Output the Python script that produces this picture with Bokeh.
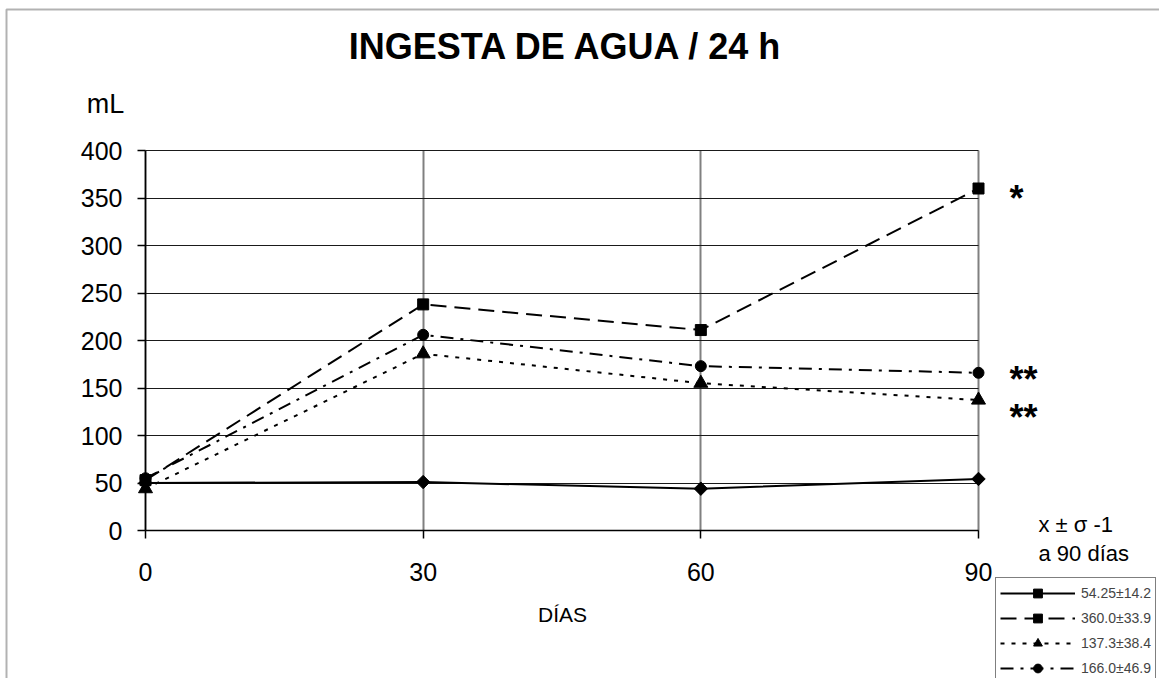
import math
from bokeh.plotting import figure
from bokeh.models import Range1d, Label, Legend, LegendItem, FixedTicker, BoxAnnotation
from bokeh.embed import file_html
from bokeh.resources import INLINE

# ---- data ----
days = [0, 30, 60, 90]
x_ticks = [0, 30, 60, 90]
y_ticks = [0, 50, 100, 150, 200, 250, 300, 350, 400]
grupo_1 = [50, 51, 44, 54.25]     # diamond, solid
grupo_2 = [53, 238, 211, 360]     # square, dashed
grupo_3 = [44, 186, 155, 137.3]   # triangle, dotted
grupo_4 = [55, 206, 173, 166]     # circle, dash-dot
legend_labels = ["54.25\u00b114.2", "360.0\u00b133.9", "137.3\u00b138.4", "166.0\u00b146.9"]
title_text = "INGESTA DE AGUA / 24 h"
y_title = "mL"
x_title = "D\u00cdAS"
note_1 = "x \u00b1 \u03c3 -1"
note_2 = "a 90 d\u00edas"
marks = ["*", "**", "**"]
mark_values = [360, 166, 137.3]

FONT = "Liberation Sans"
W, H = 1159, 678
# plot area (0..90, 0..400) placed at pixels x 145..978, y 530..150
PX = (978 - 145) / 90.0
PY = (530 - 150) / 400.0
x_rng = Range1d(-145 / PX, 90 + (W - 978) / PX)
y_rng = Range1d(-(H - 530) / PY, 400 + 150 / PY)

p = figure(width=W, height=H, output_backend="svg", toolbar_location=None,
           x_range=x_rng, y_range=y_rng,
           min_border_left=0, min_border_right=0,
           min_border_top=0, min_border_bottom=0)
p.outline_line_color = None
p.background_fill_color = "white"
p.border_fill_color = "white"

# outer chart frame (left and top edges visible)
p.add_layout(BoxAnnotation(left=6, right=W + 100, top=H - 9, bottom=-100,
                           left_units="screen", right_units="screen",
                           top_units="screen", bottom_units="screen",
                           fill_alpha=0, line_color="black", line_width=2))

# axes
p.xaxis.ticker = FixedTicker(ticks=x_ticks)
p.yaxis.ticker = FixedTicker(ticks=y_ticks)
p.xaxis.bounds = (0, 90)
p.yaxis.bounds = (0, 400)
p.xaxis.fixed_location = 0
p.yaxis.fixed_location = 0
for ax in (p.xaxis, p.yaxis):
    ax.axis_line_color = "black"
    ax.axis_line_width = 1.5
    ax.major_tick_line_color = "black"
    ax.major_tick_line_width = 1.5
    ax.major_tick_out = 8
    ax.major_tick_in = 0
    ax.minor_tick_line_color = None
    ax.major_label_text_font = FONT
    ax.major_label_text_font_size = "25px"
    ax.major_label_text_color = "black"
p.xaxis.major_label_standoff = 24
p.yaxis.major_label_standoff = 15

# grids
p.xgrid.ticker = FixedTicker(ticks=x_ticks)
p.ygrid.ticker = FixedTicker(ticks=y_ticks)
p.xgrid.grid_line_color = "#808080"
p.xgrid.grid_line_width = 2
p.xgrid.cross_bounds = (0, 400)
p.ygrid.grid_line_color = "#1a1a1a"
p.ygrid.grid_line_width = 1
p.ygrid.cross_bounds = (0, 90)

# series
series = [
    (grupo_1, "solid", "square", 9.5, math.pi / 4),
    (grupo_2, "16 8", "square", 11, 0),
    (grupo_3, "4 7", "triangle", 14, 0),
    (grupo_4, "13 7 3 7", "circle", 11, 0),
]
items = []
for (vals, dash, marker, size, ang), lab_ in zip(series, legend_labels):
    r = p.line(days, vals, line_color="black", line_width=2, line_dash=dash)
    s = p.scatter(days, vals, marker=marker, size=size, angle=ang,
                  fill_color="black", line_color="black")
    items.append(LegendItem(label=lab_, renderers=[r, s]))

legend = Legend(items=items, location=(995, H - 684), orientation="vertical",
                glyph_width=75, glyph_height=22, label_height=22, spacing=3,
                padding=4, margin=0, label_standoff=6,
                label_text_font=FONT, label_text_font_size="14px",
                label_text_baseline="middle",
                border_line_color="black", border_line_width=1,
                background_fill_color="white", background_fill_alpha=1)
p.add_layout(legend, "center")

def lab(x, y, text, size, align="center", bold=False):
    p.add_layout(Label(x=x, y=H - y, x_units="screen", y_units="screen", text=text,
                       text_font=FONT, text_font_size=size, text_align=align,
                       text_baseline="middle", text_color="black",
                       text_font_style="bold" if bold else "normal"))

lab(566, 46, title_text, "36px", bold=True)
lab(105, 103, y_title, "27px")
lab(562, 614, x_title, "21px")
lab(1038, 524, note_1, "22px", align="left")
lab(1038, 553, note_2, "22px", align="left")
# significance marks placed next to the 90-day values
for m, v, dy in zip(marks, mark_values, [-10, -7, -17]):
    p.add_layout(Label(x=1009, y=v, x_units="screen", y_units="data", text=m,
                       y_offset=dy, text_font=FONT, text_font_size="36px",
                       text_align="left", text_baseline="middle",
                       text_color="black", text_font_style="bold"))

open("out.html", "w").write(file_html(p, INLINE))
